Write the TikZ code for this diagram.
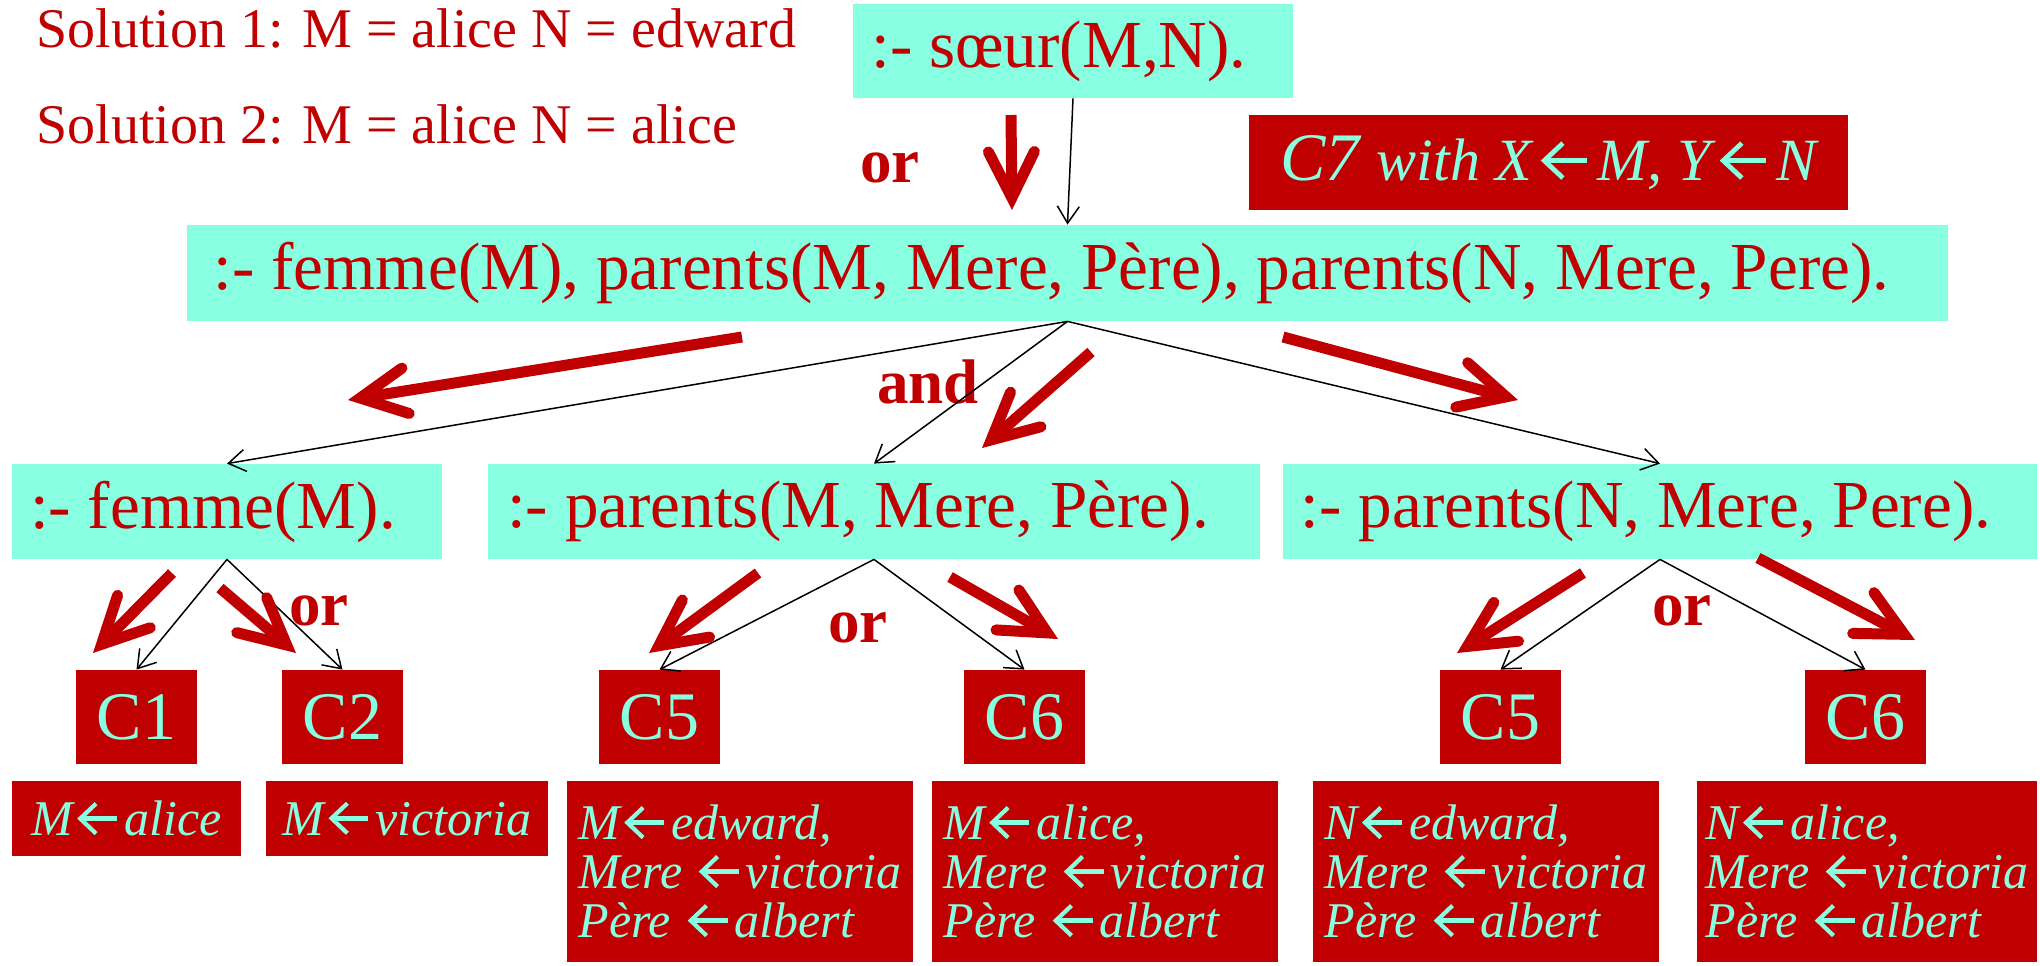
\documentclass[tikz,border=0pt]{standalone}
\usepackage{fontspec}
\setmainfont{Liberation Serif}
\usetikzlibrary{arrows.meta}
\definecolor{aqua}{RGB}{136,255,224}
\definecolor{brick}{RGB}{192,0,0}

% bold substitution arrows, one for the bindings and one for the C7 note
\newsavebox\bindarrowbox
\sbox\bindarrowbox{\tikz[x=1pt,y=1pt,baseline=0pt]{
  \draw[aqua, line width=2.3pt] (19,8.5) -- (1.5,8.5);
  \draw[aqua, line width=2.1pt, line join=miter] (8.5,16) -- (0.6,8.5) -- (8.5,1);}}
\newsavebox\noteseparrowbox
\sbox\noteseparrowbox{\tikz[x=1pt,y=1pt,baseline=0pt]{
  \draw[aqua, line width=2.6pt] (22,9.9) -- (1.7,9.9);
  \draw[aqua, line width=2.4pt, line join=miter] (10,18.6) -- (0.7,9.9) -- (10,1.2);}}
\newcommand\getsarrow{\kern2.5pt\usebox\bindarrowbox\kern2.5pt}
\newcommand\notearrow{\kern5pt\usebox\noteseparrowbox\kern4pt}

\begin{document}
\begin{tikzpicture}[x=0.5pt,y=-0.5pt,
  goal/.style={fill=aqua, text=brick, inner sep=0pt, font=\fontsize{33.6}{40}\selectfont, minimum height=47.5pt},
  clause/.style={fill=brick, text=aqua, inner sep=0pt, font=\fontsize{34}{40}\selectfont, minimum width=60.5pt, minimum height=47pt},
  binding/.style={fill=brick, text=aqua, inner sep=0pt, align=left, font=\fontsize{25}{24.5}\selectfont\itshape},
  note/.style={text=brick, inner sep=0pt, anchor=base west},
  solnote/.style={note, font=\fontsize{28}{32}\selectfont},
  conj/.style={note, font=\fontsize{31.5}{36}\selectfont\bfseries},
  link/.style={draw=black, line width=0.75pt, -{Straight Barb[length=8.5pt,width=11pt]}},
  flow/.style={draw=brick, line width=5.5pt, -{Straight Barb[length=23pt,width=23pt,line cap=round]}},
]
\useasboundingbox (0,0) rectangle (2040,965);

% solutions
\node[solnote] (sol1) at (36,47) {Solution 1: M = alice N = edward};
\node[solnote] (sol2) at (36,143) {Solution 2: M = alice N = alice};

% goals
\node[goal, minimum width=220pt, minimum height=47pt] (soeur) at (1073,51) {\kern-14pt:- sœur(M,N).};
\node[goal, minimum width=880.5pt, minimum height=48pt] (conjgoal) at (1067.5,273)
  {\kern-16pt:- femme(M), parents(M, Mere, Père), parents(N, Mere, Pere).};
\node[fill=brick, text=aqua, inner sep=0pt, minimum width=299.5pt, minimum height=47.5pt] (c7) at (1548.5,162.5)
  {\itshape\fontsize{34}{40}\selectfont C7 \fontsize{30}{34}\selectfont with X\notearrow M, Y\notearrow N};
\node[goal, minimum width=215pt] (femme) at (227,511.5) {\kern-14pt:- femme(M).};
\node[goal, minimum width=386pt] (parM) at (874,511.5) {\kern-16pt:- parents(M, Mere, Père).};
\node[goal, minimum width=377pt] (parN) at (1660,511.5) {\kern-14pt:- parents(N, Mere, Pere).};

% clauses
\node[clause] (c1) at (136.5,717) {C1};
\node[clause] (c2) at (342.5,717) {C2};
\node[clause] (c5a) at (659.5,717) {C5};
\node[clause] (c6a) at (1024.5,717) {C6};
\node[clause] (c5b) at (1500.5,717) {C5};
\node[clause] (c6b) at (1865.5,717) {C6};

% bindings
\node[binding, minimum width=114.5pt, minimum height=37.5pt] (b1) at (126.5,818.5) {M\getsarrow alice};
\node[binding, minimum width=141pt, minimum height=37.5pt] (b2) at (407,818.5) {M\getsarrow victoria};
\node[binding, minimum width=173pt, minimum height=90.5pt] (b3) at (740,871.5)
  {M\getsarrow edward,\\Mere \getsarrow victoria\\Père \getsarrow albert};
\node[binding, minimum width=173pt, minimum height=90.5pt] (b4) at (1105,871.5)
  {M\getsarrow alice,\\Mere \getsarrow victoria\\Père \getsarrow albert};
\node[binding, minimum width=173pt, minimum height=90.5pt] (b5) at (1486,871.5)
  {N\getsarrow edward,\\Mere \getsarrow victoria\\Père \getsarrow albert};
\node[binding, minimum width=170pt, minimum height=90.5pt] (b6) at (1867,871.5)
  {N\getsarrow alice,\\Mere \getsarrow victoria\\Père \getsarrow albert};

% or / and labels
\node[conj] (or0) at (860,182) {or};
\node[conj] (and0) at (877,403) {and};
\node[conj] (or1) at (289,625) {or};
\node[conj] (or2) at (828,642) {or};
\node[conj] (or3) at (1652,625) {or};

% resolution tree links
\draw[link] (soeur.south) -- (conjgoal.north);
\draw[link] (conjgoal.south) -- (femme.north);
\draw[link] (conjgoal.south) -- (parM.north);
\draw[link] (conjgoal.south) -- (parN.north);
\draw[link] (femme.south) -- (c1.north);
\draw[link] (femme.south) -- (c2.north);
\draw[link] (parM.south) -- (c5a.north);
\draw[link] (parM.south) -- (c6a.north);
\draw[link] (parN.south) -- (c5b.north);
\draw[link] (parN.south) -- (c6b.north);

% thick search-direction arrows
\draw[flow] (1011,115) -- (1012,210);
\draw[flow] (742,337) -- (348,400);
\draw[flow] (1091,352) -- (982,448);
\draw[flow] (1283,337) -- (1518,400);
\draw[flow] (172,573) -- (93,653);
\draw[flow] (220,588) -- (296,653);
\draw[flow] (758,573) -- (649,653);
\draw[flow] (950,577) -- (1058,639);
\draw[flow] (1583,573) -- (1457,653);
\draw[flow] (1758,558) -- (1915,640);
\end{tikzpicture}
\end{document}
